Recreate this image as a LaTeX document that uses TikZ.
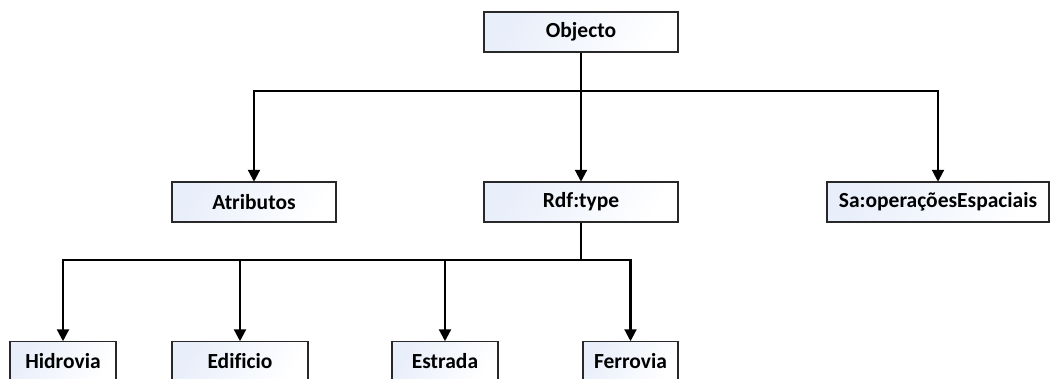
\documentclass[tikz,border=0pt]{standalone}
\usepackage{fontspec}
\setmainfont{Carlito}[Ligatures=CommonOff]
\usetikzlibrary{arrows.meta}
\definecolor{boxblue}{RGB}{232,238,250}
\definecolor{boxline}{RGB}{40,40,40}
\tikzset{
  box/.style={draw=boxline, line width=1.5pt, minimum height=40pt, inner sep=0pt,
    shading=axis, left color=boxblue, right color=white, shading angle=60,
    font=\fontsize{21.5}{25}\selectfont\bfseries},
  conn/.style={line width=2.2pt, black},
  arr/.style={conn, -{Triangle[width=12pt,length=12pt]}, shorten >=-0.5pt},
}
\begin{document}
\begin{tikzpicture}[x=1pt,y=-1pt]
\path[use as bounding box] (0,0) rectangle (1050,378);
\clip (0,0) rectangle (1050,378);
\node[box, minimum width=194pt] (obj) at (581,32) {Objecto};
\node[box, minimum width=164pt] (atr) at (254,202) {Atributos};
\node[box, minimum width=194pt] (rdf) at (581,202) {Rdf:type};
\node[box, minimum width=222pt] (sa) at (938,202) {Sa:operaçõesEspaciais};
\node[box, minimum width=106pt] (hid) at (63,361.5) {Hidrovia};
\node[box, minimum width=136pt] (edi) at (240,361.5) {Edificio};
\node[box, minimum width=106pt] (est) at (445,361.5) {Estrada};
\node[box, minimum width=95pt] (fer) at (630.5,361.5) {Ferrovia};
\coordinate (j1) at (581,91);
\coordinate (j2) at (581,260);
\draw[conn] (obj.south) -- (j1);
\draw[arr] (j1) -| (atr.north);
\draw[arr] (j1) -- (rdf.north);
\draw[arr] (j1) -| (sa.north);
\draw[conn] (rdf.south) -- (j2);
\draw[arr] (j2) -| (hid.north);
\draw[arr] (j2) -| (edi.north);
\draw[arr] (j2) -| (est.north);
\draw[arr] (j2) -| (fer.north);
\end{tikzpicture}
\end{document}
